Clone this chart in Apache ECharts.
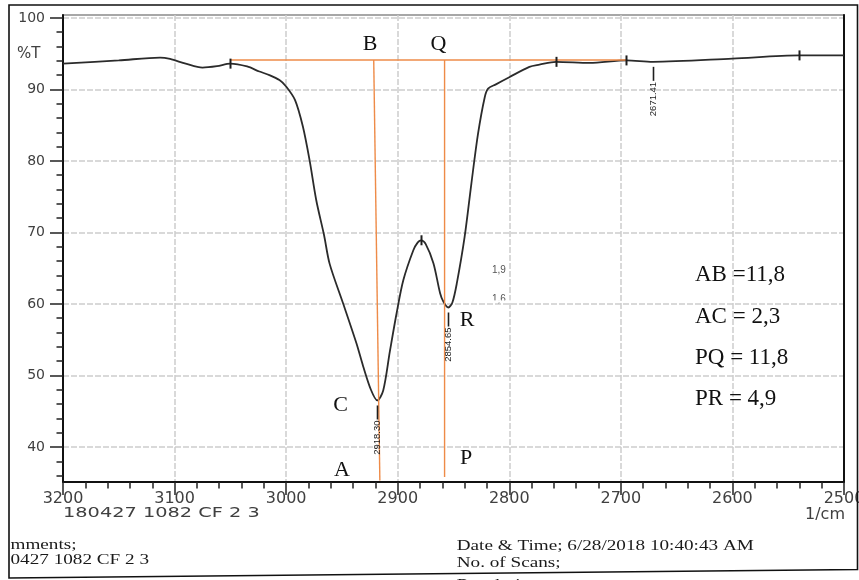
<!DOCTYPE html>
<html>
<head>
<meta charset="utf-8">
<script src="https://cdn.jsdelivr.net/npm/echarts@6/dist/echarts.min.js"></script>
<style>
  html, body { margin: 0; padding: 0; background: #fff; }
  #chart { width: 859px; height: 580px; }
</style>
</head>
<body>
<div id="chart"></div>
<script>
// IR transmittance trace, 3200-2500 1/cm (C-H stretching region)
const wavenumbers = [
  3200, 3150, 3113, 3104, 3090, 3075, 3062, 3050, 3035, 3024, 3015, 3006,
  3000, 2992, 2985, 2979, 2973, 2966, 2961, 2949, 2937, 2931, 2924, 2918.30,
  2913, 2907, 2901, 2895, 2886, 2882, 2879, 2875, 2868, 2862, 2859, 2854.65,
  2851, 2847, 2840, 2834, 2828, 2822, 2819, 2812, 2800, 2782, 2773, 2758,
  2728, 2695, 2671.41, 2600, 2540, 2500
];
const transmittance = [
  93.6, 94.05, 94.45, 94.25, 93.6, 93.05, 93.25, 93.6, 93.2, 92.5, 92.0, 91.3,
  90.4, 88.5, 84.8, 80.1, 74.5, 69.6, 65.6, 60.1, 54.5, 51.3, 48.0, 46.5,
  47.9, 53.4, 58.7, 63.3, 67.5, 68.6, 68.9, 68.4, 65.7, 61.5, 60.3, 59.5,
  60.2, 62.9, 69.4, 76.8, 83.8, 88.9, 90.1, 90.7, 91.7, 93.15, 93.45, 93.85,
  93.7, 94.05, 93.85, 94.3, 94.75, 94.75
];

// axis ticks
const xTickLabels = [3200, 3100, 3000, 2900, 2800, 2700, 2600, 2500];
const yTickLabels = [40, 50, 60, 70, 80, 90, 100];
const yMinorTicks = [36, 38, 42, 44, 46, 48, 52, 54, 56, 58, 62, 64, 66, 68,
  72, 74, 76, 78, 82, 84, 86, 88, 92, 94, 96, 98];

// peaks picked with a printed wavenumber
const labelledPeaks = [2918.30, 2854.65, 2671.41];
// peaks picked with a short marker only
const markedPeaks = [3050, 2879, 2758, 2695, 2540];

// construction lines drawn on the trace
const baselineX = [3050, 2695];
const baselineY = [94.1, 94.1];
const lineAB_X = [2921.5, 2916];
const lineAB_Y = [94.1, 35.3];
const linePQ_X = [2858, 2858];
const linePQ_Y = [94.1, 35.8];

const pointLetters = ['B', 'Q', 'C', 'A', 'P', 'R'];
const measurements = ['AB =11,8', 'AC = 2,3', 'PQ = 11,8', 'PR = 4,9'];
const sideNotes = ['1,9', '1,6'];

const sampleId = '180427 1082 CF 2 3';
const footerLeft = ['Comments;', sampleId];
const footerRight = ['Date & Time; 6/28/2018 10:40:43 AM', 'No. of Scans;', 'Resolution;'];

// transmittance on the trace at a given wavenumber (linear between samples)
function traceAt(w) {
  for (let i = 0; i < wavenumbers.length - 1; i++) {
    const a = wavenumbers[i], b = wavenumbers[i + 1];
    if (w <= a && w >= b) {
      const t = (a - w) / (a - b);
      return transmittance[i] + t * (transmittance[i + 1] - transmittance[i]);
    }
  }
  return transmittance[transmittance.length - 1];
}
const pairs = (xs, ys) => xs.map((x, i) => [x, ys[i]]);

const Y_MIN = 35.1, Y_MAX = 100.4;
const ink = '#2b2b2b';
const axisInk = '#111';
const labelInk = '#404040';
const orange = '#ee8b48';
const gridStyle = { color: '#cdcdcd', type: [6, 2], width: 1.5 };
const serif = 'Liberation Serif';

const chart = echarts.init(document.getElementById('chart'), null, { renderer: 'canvas' });

const letterPos = {
  B: [370, 44], Q: [438.5, 44], C: [340.5, 405], A: [342, 470], P: [466, 458], R: [467, 320]
};

const graphics = [];
// letters at construction points
pointLetters.forEach(l => {
  graphics.push({
    type: 'text', x: letterPos[l][0], y: letterPos[l][1], z: 10,
    style: { text: l, font: '22px ' + serif, fill: '#111', align: 'center', verticalAlign: 'middle' }
  });
});
// measured lengths
measurements.forEach((m, i) => {
  graphics.push({
    type: 'text', x: 695, y: [275, 317, 358, 399][i], z: 10,
    style: { text: m, font: '23px ' + serif, fill: '#111', align: 'left', verticalAlign: 'middle' }
  });
});
// small pencil notes (the lower one is partly hidden)
graphics.push({
  type: 'text', x: 492, y: 270, z: 10,
  style: { text: sideNotes[0], font: '10px Liberation Sans', fill: '#555', align: 'left', verticalAlign: 'middle' }
});
graphics.push({
  type: 'text', x: 492, y: 299.5, z: 10,
  style: { text: sideNotes[1], font: '10px Liberation Sans', fill: '#555', align: 'left', verticalAlign: 'middle' }
});
graphics.push({
  type: 'rect', zlevel: 1, z: 0, shape: { x: 486, y: 300.4, width: 26, height: 1.9 },
  style: { fill: '#fff' }
});
// axis captions
graphics.push({
  type: 'text', x: 17, y: 54, z: 10,
  style: { text: '%T', font: '15px DejaVu Sans', fill: labelInk, align: 'left', verticalAlign: 'middle' }
});
graphics.push({
  type: 'text', x: 845, y: 515, z: 10,
  style: { text: '1/cm', font: '16px DejaVu Sans', fill: labelInk, align: 'right', verticalAlign: 'middle' }
});
graphics.push({
  type: 'text', x: 63, y: 513, z: 10, scaleX: 1.38,
  style: { text: sampleId, font: '14px DejaVu Sans', fill: labelInk, align: 'left', verticalAlign: 'middle' }
});
// report footer
footerLeft.forEach((t, i) => {
  graphics.push({
    type: 'text', x: [-11.9, -8.7][i], y: [545, 560][i], z: 10, scaleX: 1.37,
    style: { text: t, font: '14px ' + serif, fill: '#1a1a1a', align: 'left', verticalAlign: 'middle' }
  });
});
footerRight.forEach((t, i) => {
  graphics.push({
    type: 'text', x: 456.7, y: [546, 563, 585][i], z: 10, scaleX: 1.37,
    style: { text: t, font: '14px ' + serif, fill: '#1a1a1a', align: 'left', verticalAlign: 'middle' }
  });
});
// margin left of the page frame stays blank
graphics.push({
  type: 'rect', zlevel: 1, z: 0, shape: { x: 0, y: 0, width: 10, height: 580 }, style: { fill: '#fff' }
});
// page frame
graphics.push({
  type: 'polygon', zlevel: 1, z: 1,
  shape: { points: [[9, 5], [857.5, 5], [857.5, 569.5], [9, 578]] },
  style: { fill: null, stroke: axisInk, lineWidth: 1.6 }
});

const option = {
  backgroundColor: '#fff',
  animation: false,
  grid: {
    left: 63, right: 15, top: 15, bottom: 98,
    outerBoundsMode: 'none', containLabel: false,
    show: true, borderColor: '#8a8a8a', borderWidth: 1.5, backgroundColor: 'transparent'
  },
  xAxis: [{
    type: 'value', min: 2500, max: 3200, interval: 100, inverse: true,
    axisLine: { show: true, lineStyle: { color: axisInk, width: 2 } },
    axisTick: { show: true, length: 13, lineStyle: { color: '#222', width: 1.5 } },
    minorTick: { show: true, splitNumber: 5, length: 6.5, lineStyle: { color: '#222', width: 1.5 } },
    axisLabel: {
      customValues: xTickLabels, margin: 9, color: labelInk,
      fontFamily: 'DejaVu Sans', fontSize: 16, showMinLabel: true, showMaxLabel: true,
      formatter: v => String(v)
    },
    splitLine: { show: true, lineStyle: gridStyle }
  }],
  yAxis: [{
    type: 'value', min: Y_MIN, max: Y_MAX, position: 'left',
    axisLine: { show: true, lineStyle: { color: axisInk, width: 2 } },
    axisTick: { show: true, length: 13, customValues: yTickLabels, lineStyle: { color: '#222', width: 1.5 } },
    axisLabel: { customValues: yTickLabels, margin: 18, color: labelInk, fontFamily: 'DejaVu Sans', fontSize: 14,
                 formatter: v => String(v) },
    splitLine: { show: true, lineStyle: gridStyle }
  }, {
    type: 'value', min: Y_MIN, max: Y_MAX, position: 'left', offset: 0,
    axisLine: { show: false },
    axisTick: { show: true, length: 6.5, customValues: yMinorTicks, lineStyle: { color: '#222', width: 1.5 } },
    axisLabel: { show: false },
    splitLine: { show: false }
  }, {
    type: 'value', min: Y_MIN, max: Y_MAX, position: 'right', offset: 0,
    axisLine: { show: true, lineStyle: { color: axisInk, width: 2 } },
    axisTick: { show: false }, axisLabel: { show: false }, splitLine: { show: false }
  }],
  series: [
    {
      name: 'spectrum', type: 'line', data: pairs(wavenumbers, transmittance),
      showSymbol: false, smooth: 0.3, z: 3,
      lineStyle: { color: ink, width: 1.8 }
    },
    {
      name: 'baseline', type: 'line', data: pairs(baselineX, baselineY),
      showSymbol: false, z: 4, lineStyle: { color: orange, width: 1.6 }
    },
    {
      name: 'AB', type: 'line', data: pairs(lineAB_X, lineAB_Y),
      showSymbol: false, z: 4, lineStyle: { color: orange, width: 1.4 }
    },
    {
      name: 'PQ', type: 'line', data: pairs(linePQ_X, linePQ_Y),
      showSymbol: false, z: 4, lineStyle: { color: orange, width: 1.4 }
    },
    {
      // picked peaks: short bar on the trace
      name: 'peak marks', type: 'custom', z: 5,
      data: markedPeaks.map(w => [w, traceAt(w)]),
      renderItem: (params, api) => {
        const p = api.coord([api.value(0), api.value(1)]);
        const x = Math.round(p[0]) + 0.5;
        return {
          type: 'line', shape: { x1: x, y1: p[1] - 5, x2: x, y2: p[1] + 5 },
          style: { stroke: '#1e1e1e', lineWidth: 2 }
        };
      }
    },
    {
      // labelled minima: leader below the trace and the wavenumber, rotated
      name: 'peak labels', type: 'custom', z: 5,
      data: labelledPeaks.map(w => [w, traceAt(w)]),
      renderItem: (params, api) => {
        const w = api.value(0);
        const p = api.coord([w, api.value(1)]);
        const x = Math.round(p[0]) + 0.5;
        return {
          type: 'group',
          children: [
            { type: 'line', shape: { x1: x, y1: p[1] + 5, x2: x, y2: p[1] + 19 },
              style: { stroke: '#1e1e1e', lineWidth: 1.6 } },
            { type: 'text', x: x, y: p[1] + 20, rotation: Math.PI / 2,
              style: { text: w.toFixed(2), font: '9.5px Liberation Sans', fill: '#222',
                       align: 'right', verticalAlign: 'middle' } }
          ]
        };
      }
    }
  ],
  graphic: graphics
};

chart.setOption(option);
</script>
</body>
</html>
